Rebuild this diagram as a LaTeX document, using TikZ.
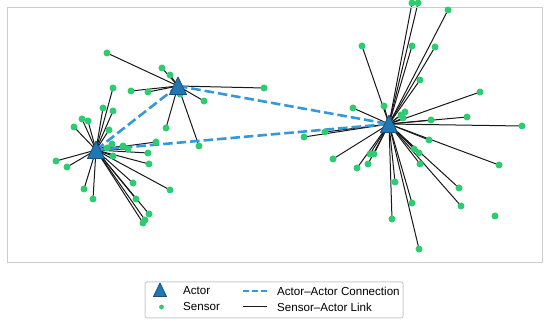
\documentclass[tikz,border=0pt]{standalone}
\usepackage{fontspec}
\setmainfont{Liberation Sans}
\usetikzlibrary{backgrounds}

\definecolor{actorblue}{HTML}{1F77B4}
\definecolor{actoredge}{HTML}{1A4F7A}
\definecolor{linkblue}{HTML}{3498DB}
\definecolor{sensorgreen}{HTML}{2ECC71}
\definecolor{framegray}{HTML}{CCCCCC}

\tikzset{
  sensor/.style={circle, fill=sensorgreen, inner sep=0pt, minimum size=7pt},
  actor/.style={circle, inner sep=0pt, minimum size=2pt},
  actorlink/.style={draw=linkblue, line width=2.6pt, dash pattern=on 9.5pt off 4pt},
  sensorlink/.style={draw=black!90, line width=1pt},
  tri/.style={fill=actorblue, draw=actoredge, line width=0.8pt, line join=round},
  entry/.style={anchor=west, inner sep=0pt},
}

\begin{document}
\begin{tikzpicture}[x=1pt, y=-1pt, font=\fontsize{11.6}{14}\selectfont]
  \useasboundingbox (0,0) rectangle (550,326);
  \draw[framegray, line width=1pt] (7,8) rectangle (542,263);

  % actors
  \node[actor] (a1) at (96,150) {};
  \node[actor] (a2) at (178,86) {};
  \node[actor] (a3) at (389,124) {};

  % sensors
  \foreach \x/\y [count=\i] in {113/88, 103/108, 113/111, 82/119, 88/121, 74/127,
      109/130, 156/142, 112/144, 107/148, 123/146, 128/149, 148/153, 113/156,
      149/164, 56/161, 67/167, 133/183, 170/190, 84/189, 93/199, 136/199,
      149/214, 145/220, 143/223}
    \node[sensor] (sa\i) at (\x,\y) {};
  \foreach \x/\y [count=\i] in {107/53, 162/68, 170/75, 131/91, 148/92, 180/94,
      264/88, 204/101, 166/128, 199/146}
    \node[sensor] (sb\i) at (\x,\y) {};
  \foreach \x/\y [count=\i] in {412/3, 418/3, 448/10, 362/46, 412/46, 435/47,
      420/80, 480/92, 353/108, 384/106, 405/112, 401/115, 403/118, 467/117,
      431/120, 522/126, 325/132, 304/137, 429/140, 414/149, 419/153, 370/154,
      374/154, 333/159, 368/164, 420/164, 357/168, 499/165, 395/182, 459/188,
      461/206, 412/203, 392/219, 419/249}
    \node[sensor] (sc\i) at (\x,\y) {};
  \node[sensor] (lone) at (495,216) {};

  \begin{scope}[on background layer]
    \foreach \i in {1,...,25} \draw[sensorlink] (a1.center) -- (sa\i.center);
    \foreach \i in {1,...,10} \draw[sensorlink] (a2.center) -- (sb\i.center);
    \foreach \i in {1,...,34} \draw[sensorlink] (a3.center) -- (sc\i.center);
    \draw[actorlink] (a1.center) -- (a2.center);
    \draw[actorlink] (a1.center) -- (a3.center);
    \draw[actorlink] (a2.center) -- (a3.center);
  \end{scope}

  \foreach \a in {a1,a2,a3}
    \draw[tri] (\a.center) +(0,-9) -- +(8.5,8.5) -- +(-8.5,8.5) -- cycle;

  % legend
  \draw[framegray, line width=1pt, rounded corners=2pt] (145,282) rectangle (403,318);
  \node[actor] (la) at (160,290) {};
  \draw[tri] (la.center) +(0,-7) -- +(6.5,6.5) -- +(-6.5,6.5) -- cycle;
  \node[sensor, minimum size=4.8pt] (ls) at (161.5,307) {};
  \coordinate (lc1) at (243,291);
  \coordinate (lc2) at (267,291);
  \coordinate (ll1) at (243,307);
  \coordinate (ll2) at (267,307);
  \draw[actorlink, line width=2pt, dash pattern=on 6pt off 3pt] (lc1) -- (lc2);
  \draw[sensorlink] (ll1) -- (ll2);
  \node[entry] at (183,291) {Actor};
  \node[entry] at (183,307) {Sensor};
  \node[entry] at (277,291) {Actor--Actor Connection};
  \node[entry] at (277,307) {Sensor--Actor Link};
\end{tikzpicture}
\end{document}
